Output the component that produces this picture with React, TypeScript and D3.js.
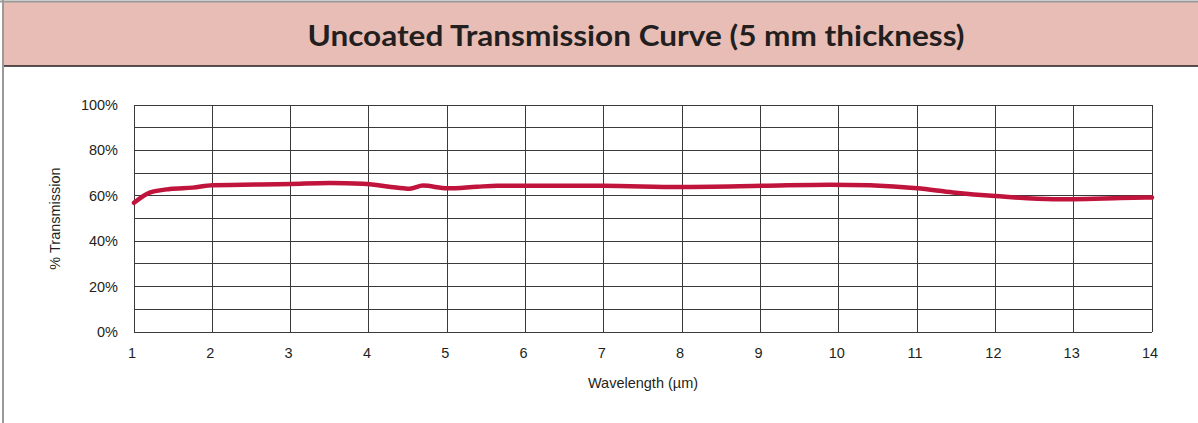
import React from 'react'
import * as d3 from 'd3'

// curve (wavelength in µm, transmission in %)
const wavelengths = [1.0, 1.2, 1.46, 1.75, 2.0, 3.0, 3.5, 3.92, 4.44, 4.52, 4.69, 5.0, 5.38, 5.64, 6.99, 7.97, 9.03, 9.89, 10.4, 11.0, 11.46, 12.0, 12.74, 13.0, 13.6, 14.0]
const transmission = [56.9, 61.4, 63.0, 63.6, 64.6, 65.2, 65.6, 65.3, 63.3, 63.1, 64.5, 63.3, 64.0, 64.4, 64.4, 63.9, 64.4, 64.9, 64.6, 63.3, 61.5, 59.9, 58.5, 58.5, 59.0, 59.3]

const xTicks = d3.range(1, 15)
const yTicks = [0, 20, 40, 60, 80, 100]
const yGrid = d3.range(0, 101, 10)

const title = 'Uncoated Transmission Curve (5 mm thickness)'
const xLabel = 'Wavelength (µm)'
const yLabel = '% Transmission'

const W = 1198
const H = 423

const App = () => {
  const margin = { top: 105, right: 46, bottom: 91, left: 134 }

  const x = d3.scaleLinear().domain([1, 14]).range([margin.left, W - margin.right])
  const y = d3.scaleLinear().domain([0, 100]).range([H - margin.bottom, margin.top])

  const points = wavelengths.map((w, i) => [w, transmission[i]] as [number, number])
  const line = d3
    .line<[number, number]>()
    .x((d) => x(d[0]))
    .y((d) => y(d[1]))
    .curve(d3.curveMonotoneX)

  const tickFont = '"Liberation Sans", Arial, sans-serif'

  return (
    <svg
      width={W}
      height={H}
      style={{ position: 'absolute', left: 0, top: 0, background: '#fff' }}
    >
      {/* header band */}
      <rect x={3} y={2} width={W - 3} height={64} fill="#e8bdb5" />
      <line x1={0} x2={W} y1={1.5} y2={1.5} stroke="#9a9a9a" strokeWidth={2} />
      <line x1={3} x2={W} y1={66} y2={66} stroke="#231f20" strokeWidth={1.5} />
      <line x1={3} x2={3} y1={0} y2={H} stroke="#9a9a9a" strokeWidth={2} />
      <text
        x={636}
        y={46}
        textAnchor="middle"
        fontFamily="Lato, sans-serif"
        fontWeight={700}
        fontSize={28}
        textLength={657}
        lengthAdjust="spacingAndGlyphs"
        fill="#231f20"
      >
        {title}
      </text>

      {/* grid */}
      <g stroke="#3a3a3a" strokeWidth={1} shapeRendering="crispEdges">
        {yGrid.map((t) => (
          <line key={'h' + t} x1={x(1)} x2={x(14)} y1={y(t)} y2={y(t)} />
        ))}
        {xTicks.map((t) => (
          <line key={'v' + t} x1={x(t)} x2={x(t)} y1={y(0)} y2={y(100)} />
        ))}
      </g>

      {/* axes labels */}
      <g fontFamily={tickFont} fontSize={14.5} fill="#231f20">
        {yTicks.map((t) => (
          <text key={'yl' + t} x={x(1) - 16} y={y(t)} dy="0.35em" textAnchor="end">
            {t}%
          </text>
        ))}
        {xTicks.map((t) => (
          <text key={'xl' + t} x={x(t) - 2} y={y(0) + 26} textAnchor="middle">
            {t}
          </text>
        ))}
        <text x={(x(1) + x(14)) / 2} y={y(0) + 56} textAnchor="middle" fontSize={14.5}>
          {xLabel}
        </text>
        <text
          transform={`translate(60, ${(y(0) + y(100)) / 2}) rotate(-90)`}
          textAnchor="middle"
          fontSize={14.5}
        >
          {yLabel}
        </text>
      </g>

      {/* transmission curve */}
      <path
        d={line(points) || ''}
        fill="none"
        stroke="#c0143c"
        strokeWidth={4.5}
        strokeLinecap="round"
        strokeLinejoin="round"
      />
    </svg>
  )
}

export default App
